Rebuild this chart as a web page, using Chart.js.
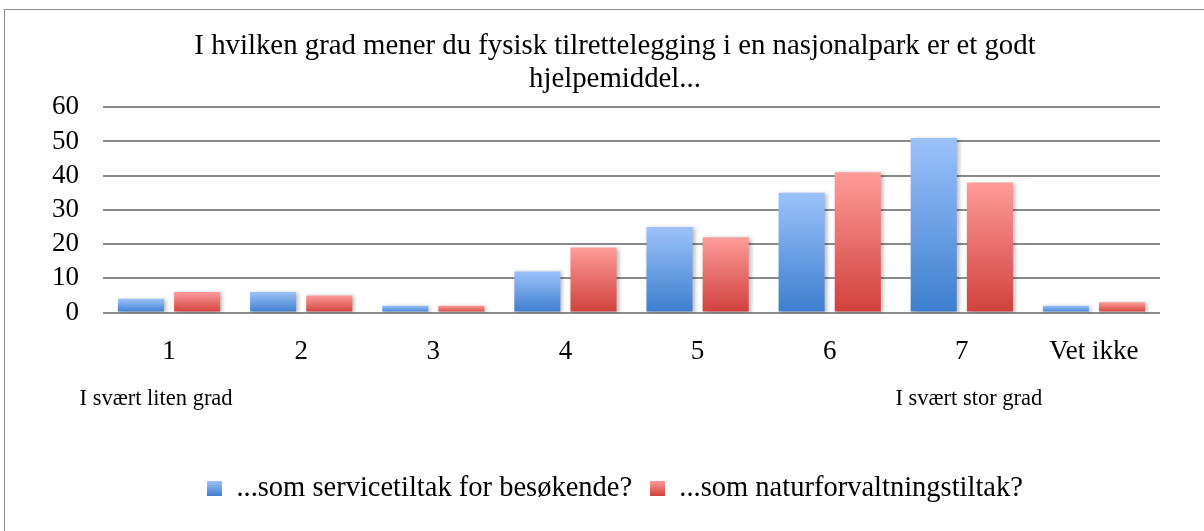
<!DOCTYPE html>
<html>
<head>
<meta charset="utf-8">
<script src="https://cdn.jsdelivr.net/npm/chart.js@4"></script>
<style>
  html, body { margin: 0; padding: 0; background: #fff; overflow: hidden; }
  #wrap { position: relative; width: 1204px; height: 531px; }
  #frame { position: absolute; left: 4px; top: 9px; width: 1300px; height: 600px; border: 1.5px solid #8c8c8c; }
  canvas { position: absolute; left: 0; top: 0; }
</style>
</head>
<body>
<div id="wrap">
  <div id="frame"></div>
  <canvas id="chart" width="1204" height="531"></canvas>
</div>
<script>
// data
const categories = ['1', '2', '3', '4', '5', '6', '7', 'Vet ikke'];
const serviceValues = [4, 6, 2, 12, 25, 35, 51, 2];
const natureValues = [6, 5, 2, 19, 22, 41, 38, 3];
const seriesNames = ['...som servicetiltak for besøkende?', '...som naturforvaltningstiltak?'];
const yTicks = [0, 10, 20, 30, 40, 50, 60];
const scaleNotes = ['I svært liten grad', 'I svært stor grad'];
const titleLines = ['I hvilken grad mener du fysisk tilrettelegging i en nasjonalpark er et godt', 'hjelpemiddel...'];

const SERIF = '"Liberation Serif", "DejaVu Serif", serif';
const blueStops = ['#9cc2fb', '#3d7ecd'];
const redStops = ['#fe9c9a', '#d0403c'];

// vertical gradient per bar, light on top, dark at the base
function barFill(stops) {
  return (c) => {
    const chart = c.chart;
    if (!chart.chartArea || c.raw == null) return stops[1];
    const y = chart.scales.y;
    const top = y.getPixelForValue(c.raw);
    const base = y.getPixelForValue(0);
    if (base - top < 1) return stops[1];
    const g = chart.ctx.createLinearGradient(0, top, 0, base);
    g.addColorStop(0, stops[0]);
    g.addColorStop(1, stops[1]);
    return g;
  };
}

// small gradient swatch for the legend
function swatch(stops) {
  const cv = document.createElement('canvas');
  cv.width = 15; cv.height = 15;
  const c = cv.getContext('2d');
  const g = c.createLinearGradient(0, 0, 0, 15);
  g.addColorStop(0, stops[0]);
  g.addColorStop(1, stops[1]);
  c.fillStyle = g;
  c.fillRect(0, 0, 15, 15);
  return cv;
}
const swatches = [swatch(blueStops), swatch(redStops)];

const barShadow = {
  id: 'barShadow',
  beforeDatasetsDraw(chart) {
    const ctx = chart.ctx;
    ctx.save();
    ctx.shadowColor = 'rgba(0,0,0,0.28)';
    ctx.shadowBlur = 4;
    ctx.shadowOffsetX = 2;
    ctx.shadowOffsetY = 1;
  },
  afterDatasetsDraw(chart) {
    chart.ctx.restore();
  }
};

const endNotes = {
  id: 'endNotes',
  afterDraw(chart) {
    const ctx = chart.ctx;
    const x = chart.scales.x;
    ctx.save();
    ctx.font = '22.5px ' + SERIF;
    ctx.fillStyle = '#000';
    ctx.textAlign = 'center';
    ctx.textBaseline = 'middle';
    ctx.fillText(scaleNotes[0], x.getPixelForValue(0) - 13, 399);
    ctx.fillText(scaleNotes[1], x.getPixelForValue(6) + 7, 399);
    ctx.restore();
  }
};

new Chart(document.getElementById('chart'), {
  type: 'bar',
  data: {
    labels: categories,
    datasets: [
      { label: seriesNames[0], data: serviceValues, backgroundColor: barFill(blueStops), pointStyle: swatches[0] },
      { label: seriesNames[1], data: natureValues, backgroundColor: barFill(redStops), pointStyle: swatches[1] }
    ]
  },
  options: {
    responsive: false,
    animation: false,
    layout: { padding: { left: 26, right: 0, top: 0, bottom: 18 } },
    datasets: { bar: { categoryPercentage: 0.85, barPercentage: 0.82 } },
    scales: {
      x: {
        grid: { display: false },
        border: { display: false },
        ticks: { color: '#000', font: { family: SERIF, size: 27 }, padding: 15 },
        afterFit(s) { s.height = 144; }
      },
      y: {
        min: 0,
        max: 60,
        afterBuildTicks(s) { s.ticks = yTicks.map(v => ({ value: v })); },
        grid: { color: '#8a8a8a', lineWidth: 2, drawTicks: false },
        border: { display: false },
        ticks: { color: '#000', font: { family: SERIF, size: 27 }, padding: 24, autoSkip: false },
        afterFit(s) { s.width = 77; }
      },
      // empty right axis, only keeps the right margin
      yRight: {
        position: 'right',
        grid: { display: false },
        border: { display: false },
        ticks: { display: false },
        afterFit(s) { s.width = 44; }
      }
    },
    plugins: {
      title: {
        display: true,
        text: titleLines,
        color: '#000',
        font: { family: SERIF, size: 28.8, weight: 'normal', lineHeight: 1.15 },
        padding: { top: 30, bottom: 11 }
      },
      legend: {
        position: 'bottom',
        labels: {
          usePointStyle: true,
          pointStyleWidth: 15,
          color: '#000',
          font: { family: SERIF, size: 28.5 },
          padding: 18
        }
      },
      tooltip: { enabled: false }
    }
  },
  plugins: [barShadow, endNotes]
});
</script>
</body>
</html>
